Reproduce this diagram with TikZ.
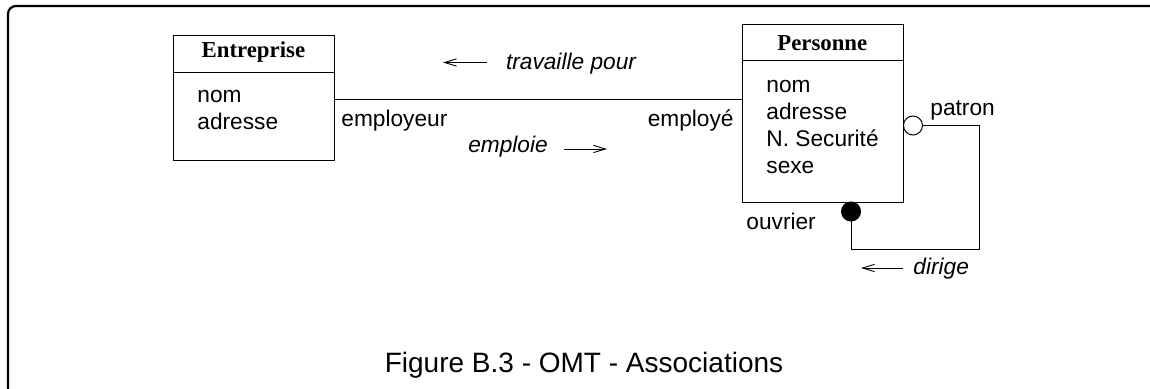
\documentclass[tikz,border=0pt]{standalone}
\usepackage{fontspec}
\setmainfont{Liberation Sans}
\newfontfamily\tms{Liberation Serif}
\usetikzlibrary{arrows.meta}
\tikzset{
  lbl/.style={inner sep=0pt, font=\fontsize{11.35}{13.6}\selectfont},
  ilbl/.style={lbl, font=\fontsize{11.35}{13.6}\selectfont\itshape},
  ttl/.style={inner sep=0pt, font=\fontsize{11.4}{13.6}\selectfont\tms\bfseries},
  classbox/.style={draw, line width=0.5pt, inner sep=0pt, anchor=north west},
  assoc/.style={line width=0.5pt},
  dirarrow/.style={line width=0.45pt, -{Straight Barb[length=6pt,width=3.6pt,line width=0.45pt]}},
  frame/.style={line width=1.1pt, rounded corners=4pt},
  hollowend/.style={circle, draw, line width=0.5pt, fill=white, minimum size=9.5pt, inner sep=0pt},
  filledend/.style={circle, draw, line width=0.5pt, fill=black, minimum size=9.5pt, inner sep=0pt}
}
\begin{document}
\begin{tikzpicture}[x=0.5pt, y=-0.5pt]
\useasboundingbox (0,0) rectangle (1150,389);
% frame
\draw[frame] (8,389) -- (8,6) -- (1150,6);
% class boxes
\node[classbox, minimum width=80.65pt, minimum height=62.65pt] (ent) at (172.7,34.7) {};
\draw[line width=0.5pt] (ent.north west) ++(0,37.6) coordinate (entsepL) -- (entsepL -| ent.east);
\node[ttl, anchor=base] (entT) at (253.4,58) {Entreprise};
\node[lbl, anchor=base west] (ea1) at (197,103) {nom};
\node[lbl, anchor=base west] (ea2) at (197,130) {adresse};

\node[classbox, minimum width=80.65pt, minimum height=88.7pt] (pers) at (741.7,24.3) {};
\draw[line width=0.5pt] (pers.north west) ++(0,36.7) coordinate (perssepL) -- (perssepL -| pers.east);
\node[ttl, anchor=base] (persT) at (822.3,50.5) {Personne};
\node[lbl, anchor=base west] (pa1) at (766,93) {nom};
\node[lbl, anchor=base west] (pa2) at (766,120) {adresse};
\node[lbl, anchor=base west] (pa3) at (766,147) {N. Securité};
\node[lbl, anchor=base west] (pa4) at (766,174) {sexe};

% association travaille pour / emploie
\coordinate (ay) at (0,100);
\draw[assoc] (ay -| ent.east) -- (ay -| pers.west);
\node[lbl, anchor=base west] (employeur) at (341,127) {employeur};
\node[lbl, anchor=base east] (employe) at (734,127) {employé};
\node[ilbl, anchor=base] (trav) at (571,70) {travaille pour};
\coordinate (tA) at (487,62.5);
\coordinate (tB) at (443,62.5);
\draw[dirarrow] (tA) -- (tB);
\node[ilbl, anchor=base] (empl) at (508,153) {emploie};
\coordinate (eA) at (564,149);
\coordinate (eB) at (607,149);
\draw[dirarrow] (eA) -- (eB);

% reflexive association dirige
\node[hollowend] (hc) at (913,125.5) {};
\node[filledend] (fc) at (851,211.5) {};
\coordinate (corner) at (979,250);
\draw[assoc] (hc.east) -| (corner) -| (fc.south);
\node[lbl, anchor=base west] (patron) at (930,116) {patron};
\node[lbl, anchor=base west] (ouvrier) at (746,230) {ouvrier};
\node[ilbl, anchor=base west] (dirige) at (913,275) {dirige};
\coordinate (dA) at (903,268);
\coordinate (dB) at (861,268);
\draw[dirarrow] (dA) -- (dB);

% caption
\node[inner sep=0pt, anchor=base, font=\fontsize{14}{16}\selectfont] (caption) at (584,372) {Figure B.3 - OMT - Associations};
\end{tikzpicture}
\end{document}
